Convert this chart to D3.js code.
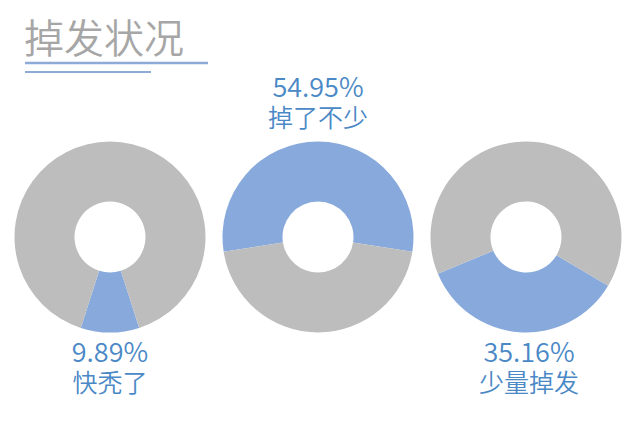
<!DOCTYPE html>
<html>
<head>
<meta charset="utf-8">
<script src="https://cdn.jsdelivr.net/npm/d3@7"></script>
<style>
  html, body { margin: 0; padding: 0; background: #fff; }
  text { font-family: "Noto Sans CJK SC", "Noto Sans", sans-serif; }
</style>
</head>
<body>
<div id="chart"></div>
<script>
const width = 640;
const height = 422;

// data
const categories = ["快秃了", "掉了不少", "少量掉发"];
const percents = [9.89, 54.95, 35.16];
const percentLabels = ["9.89%", "54.95%", "35.16%"];

const blue = "#87a9dc";
const grey = "#bdbdbd";
const textBlue = "#4a88c6";

const svg = d3.select("#chart")
    .append("svg")
    .attr("width", width)
    .attr("height", height);

// title + underlines
svg.append("text")
    .attr("x", 24)
    .attr("y", 53)
    .attr("font-size", 40)
    .attr("font-weight", 350)
    .attr("fill", "#a6a6a6")
    .text("掉发状况");

svg.append("line")
    .attr("x1", 25).attr("x2", 208)
    .attr("y1", 63).attr("y2", 63)
    .attr("stroke", "#8eaad6")
    .attr("stroke-width", 2.5);

svg.append("line")
    .attr("x1", 25).attr("x2", 151)
    .attr("y1", 72).attr("y2", 72)
    .attr("stroke", "#8eaad6")
    .attr("stroke-width", 2);

// one donut per category
const x = d3.scalePoint()
    .domain(categories)
    .range([110, 526]);
const cy = 237;

// where the blue slice is centred, in degrees (0 = top)
const centreAngle = { "快秃了": 180, "掉了不少": 0, "少量掉发": 184 };
// label on top or below
const labelBelow = { "快秃了": true, "掉了不少": false, "少量掉发": true };

const arc = d3.arc().innerRadius(35.5).outerRadius(95.5);

categories.forEach((cat, i) => {
    const value = percents[i];
    const rot = centreAngle[cat] * Math.PI / 180 - (value / 100) * Math.PI;

    const pie = d3.pie()
        .sort(null)
        .value(d => d.v)
        .startAngle(rot)
        .endAngle(rot + 2 * Math.PI);

    const slices = pie([{ k: "blue", v: value }, { k: "grey", v: 100 - value }]);

    const g = svg.append("g")
        .attr("transform", `translate(${x(cat)},${cy})`);

    g.selectAll("path")
        .data(slices)
        .enter()
        .append("path")
        .attr("d", arc)
        .attr("fill", d => d.data.k === "blue" ? blue : grey);

    const cx = x(cat) + (i === 2 ? 3 : 0);
    const y1 = labelBelow[cat] ? 362 : 97;
    svg.append("text")
        .attr("x", cx)
        .attr("y", y1)
        .attr("text-anchor", "middle")
        .attr("font-size", 27)
        .attr("font-weight", 350)
        .attr("fill", textBlue)
        .text(percentLabels[i]);
    svg.append("text")
        .attr("x", cx)
        .attr("y", y1 + 30)
        .attr("text-anchor", "middle")
        .attr("font-size", 25)
        .attr("font-weight", 350)
        .attr("fill", textBlue)
        .text(cat);
});
</script>
</body>
</html>
